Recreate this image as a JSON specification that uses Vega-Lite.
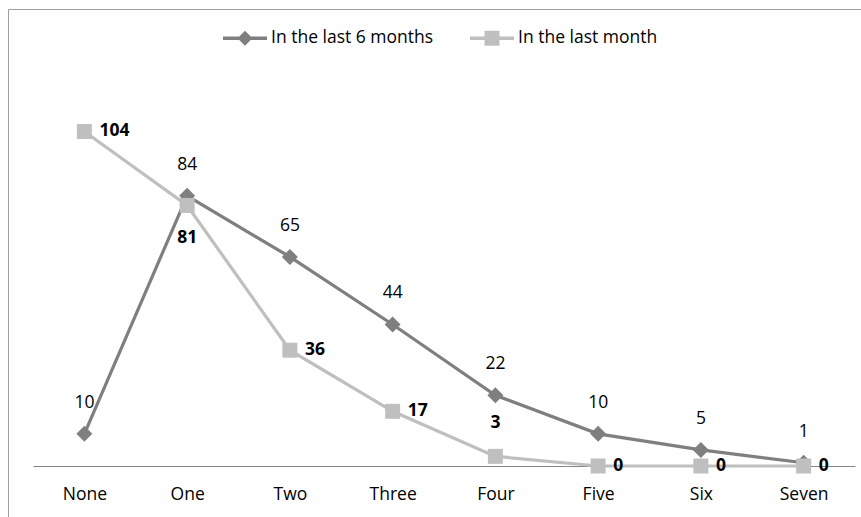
{
  "$schema": "https://vega.github.io/schema/vega-lite/v6.json",
  "width": 853,
  "height": 508,
  "autosize": {"type": "none"},
  "padding": {"left": 8, "top": 9, "right": 0, "bottom": 0},
  "background": "white",
  "config": {
    "view": {"stroke": "#a0a0a0", "strokeWidth": 1, "strokeDash": [853, 1361, 508, 0]},
    "font": "Open Sans",
    "text": {"font": "Open Sans"}
  },
  "data": {
    "values": [
      {"cat": "None", "series": "In the last 6 months", "value": 10},
      {"cat": "One", "series": "In the last 6 months", "value": 84},
      {"cat": "Two", "series": "In the last 6 months", "value": 65},
      {"cat": "Three", "series": "In the last 6 months", "value": 44},
      {"cat": "Four", "series": "In the last 6 months", "value": 22},
      {"cat": "Five", "series": "In the last 6 months", "value": 10},
      {"cat": "Six", "series": "In the last 6 months", "value": 5},
      {"cat": "Seven", "series": "In the last 6 months", "value": 1},
      {"cat": "None", "series": "In the last month", "value": 104},
      {"cat": "One", "series": "In the last month", "value": 81},
      {"cat": "Two", "series": "In the last month", "value": 36},
      {"cat": "Three", "series": "In the last month", "value": 17},
      {"cat": "Four", "series": "In the last month", "value": 3},
      {"cat": "Five", "series": "In the last month", "value": 0},
      {"cat": "Six", "series": "In the last month", "value": 0},
      {"cat": "Seven", "series": "In the last month", "value": 0}
    ]
  },
  "encoding": {
    "x": {
      "field": "cat",
      "type": "ordinal",
      "sort": ["None", "One", "Two", "Three", "Four", "Five", "Six", "Seven"],
      "scale": {"type": "point", "range": [25, 847], "padding": 0.5},
      "axis": {
        "title": null,
        "labelAngle": 0,
        "ticks": false,
        "tickSize": 0,
        "labelPadding": 19,
        "domainColor": "#868686",
        "domainWidth": 1,
        "labelFont": "Open Sans",
        "labelFontSize": 17.5,
        "labelColor": "#000000",
        "offset": -51,
        "grid": false
      }
    },
    "y": {
      "field": "value",
      "type": "quantitative",
      "scale": {"domain": [0, 120], "range": [457, 71], "nice": false},
      "axis": null
    },
    "color": {
      "field": "series",
      "type": "nominal",
      "scale": {"domain": ["In the last 6 months", "In the last month"], "range": ["#7f7f7f", "#bfbfbf"]},
      "legend": {
        "orient": "none",
        "legendX": 215,
        "legendY": 7,
        "direction": "horizontal",
        "columns": 2,
        "title": null,
        "labelFont": "Open Sans",
        "labelFontSize": 17.5,
        "labelColor": "#000000",
        "labelOffset": 4,
        "labelLimit": 400,
        "columnPadding": 36,
        "symbolSize": 1936,
        "padding": 0,
        "encode": {
          "symbols": {
            "update": {
              "shape": {"signal": "datum.value === 'In the last 6 months' ? 'M-1,-0.075H1V0.075H-1Z M0,-0.34L0.34,0L0,0.34L-0.34,0Z' : 'M-1,-0.075H1V0.075H-1Z M-0.34,-0.34H0.34V0.34H-0.34Z'"},
              "size": {"value": 1936},
              "fill": {"scale": "color", "field": "value"},
              "strokeWidth": {"value": 0},
              "opacity": {"value": 1}
            }
          }
        }
      }
    }
  },
  "layer": [
    {
      "transform": [{"filter": "datum.series === 'In the last 6 months'"}],
      "mark": {"type": "line", "strokeWidth": 3.2}
    },
    {
      "transform": [{"filter": "datum.series === 'In the last 6 months'"}],
      "mark": {"type": "point", "shape": "diamond", "filled": true, "size": 256, "opacity": 1}
    },
    {
      "transform": [{"filter": "datum.series === 'In the last 6 months'"}],
      "mark": {"type": "text", "dy": -31, "fontSize": 17.5, "baseline": "middle", "align": "center"},
      "encoding": {"text": {"field": "value"}, "color": {"value": "#000000"}}
    },
    {
      "transform": [{"filter": "datum.series === 'In the last month'"}],
      "mark": {"type": "line", "strokeWidth": 3.2}
    },
    {
      "transform": [{"filter": "datum.series === 'In the last month'"}],
      "mark": {"type": "point", "shape": "square", "filled": true, "size": 225, "opacity": 1}
    },
    {
      "transform": [{"filter": "datum.series === 'In the last month' && datum.cat !== 'One' && datum.cat !== 'Four'"}],
      "mark": {"type": "text", "dx": 15, "fontSize": 17.5, "fontWeight": "bold", "baseline": "middle", "align": "left"},
      "encoding": {"text": {"field": "value"}, "color": {"value": "#000000"}}
    },
    {
      "transform": [{"filter": "datum.series === 'In the last month' && datum.cat === 'One'"}],
      "mark": {"type": "text", "dy": 33, "fontSize": 17.5, "fontWeight": "bold", "baseline": "middle", "align": "center"},
      "encoding": {"text": {"field": "value"}, "color": {"value": "#000000"}}
    },
    {
      "transform": [{"filter": "datum.series === 'In the last month' && datum.cat === 'Four'"}],
      "mark": {"type": "text", "dy": -33, "fontSize": 17.5, "fontWeight": "bold", "baseline": "middle", "align": "center"},
      "encoding": {"text": {"field": "value"}, "color": {"value": "#000000"}}
    }
  ]
}
